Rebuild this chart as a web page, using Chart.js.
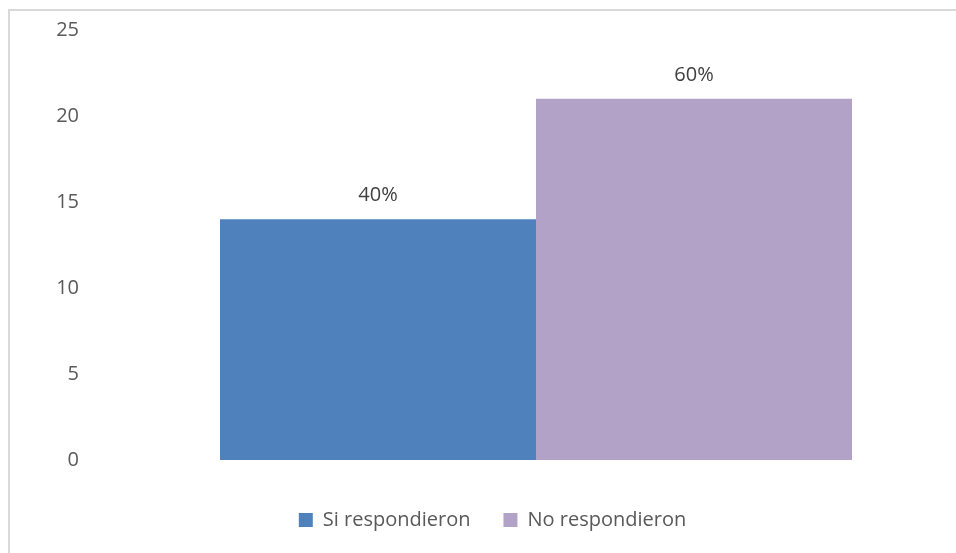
<!DOCTYPE html>
<html>
<head>
<meta charset="utf-8">
<script src="https://cdn.jsdelivr.net/npm/chart.js@4/dist/chart.umd.min.js"></script>
<style>
  html, body { margin: 0; padding: 0; background: #fff; overflow: hidden; }
  #marco { position: absolute; left: 8px; top: 9px; width: 1000px; height: 570px; border: 2px solid #d9d9d9; }
  #myChart { display: block; }
</style>
</head>
<body>
<div id="marco"><canvas id="myChart" width="1000" height="539"></canvas></div>
<script>
// datos del gráfico
const categorias = [''];
const series = ['Si respondieron', 'No respondieron'];
const valores = [14, 21];
const porcentajes = ['40%', '60%'];
const colores = ['#4f81bd', '#b3a2c7'];
const ticksY = [0, 5, 10, 15, 20, 25];

const fuente = "'Open Sans', sans-serif";

// etiquetas encima de cada barra
const etiquetas = {
    id: 'etiquetas',
    afterDatasetsDraw(chart) {
        const ctx = chart.ctx;
        ctx.save();
        ctx.font = '20px ' + fuente;
        ctx.fillStyle = '#404040';
        ctx.textAlign = 'center';
        ctx.textBaseline = 'alphabetic';
        chart.data.datasets.forEach((ds, i) => {
            const bar = chart.getDatasetMeta(i).data[0];
            ctx.fillText(porcentajes[i], bar.x, bar.y - 18);
        });
        ctx.restore();
    }
};

document.addEventListener("DOMContentLoaded", function () {
    const ctx = document.getElementById("myChart");
    new Chart(ctx, {
        type: 'bar',
        data: {
            labels: categorias,
            datasets: series.map((nombre, i) => ({
                label: nombre,
                data: [valores[i]],
                backgroundColor: colores[i],
                borderWidth: 0
            }))
        },
        options: {
            responsive: false,
            animation: false,
            layout: { padding: { left: 10, right: 45, top: 19, bottom: 10 } },
            datasets: { bar: { barPercentage: 1, categoryPercentage: 632 / 858 } },
            plugins: {
                tooltip: { enabled: false },
                legend: {
                    position: 'bottom',
                    labels: {
                        boxWidth: 14,
                        boxHeight: 14,
                        padding: 33,
                        color: '#595959',
                        font: { family: fuente, size: 20 }
                    }
                }
            },
            scales: {
                x: {
                    afterFit: s => { s.height = 17; },
                    grid: { display: false, drawTicks: false },
                    border: { display: false },
                    ticks: { display: false }
                },
                y: {
                    min: 0,
                    max: 25,
                    afterFit: s => { s.width = 87; s.paddingTop = 0; s.paddingBottom = 0; },
                    afterBuildTicks: s => { s.ticks = ticksY.map(v => ({ value: v })); },
                    grid: { display: false, drawTicks: false },
                    border: { display: false },
                    ticks: {
                        padding: 28,
                        color: '#595959',
                        font: { family: fuente, size: 20 }
                    }
                }
            }
        },
        plugins: [etiquetas]
    });
});
</script>
</body>
</html>
